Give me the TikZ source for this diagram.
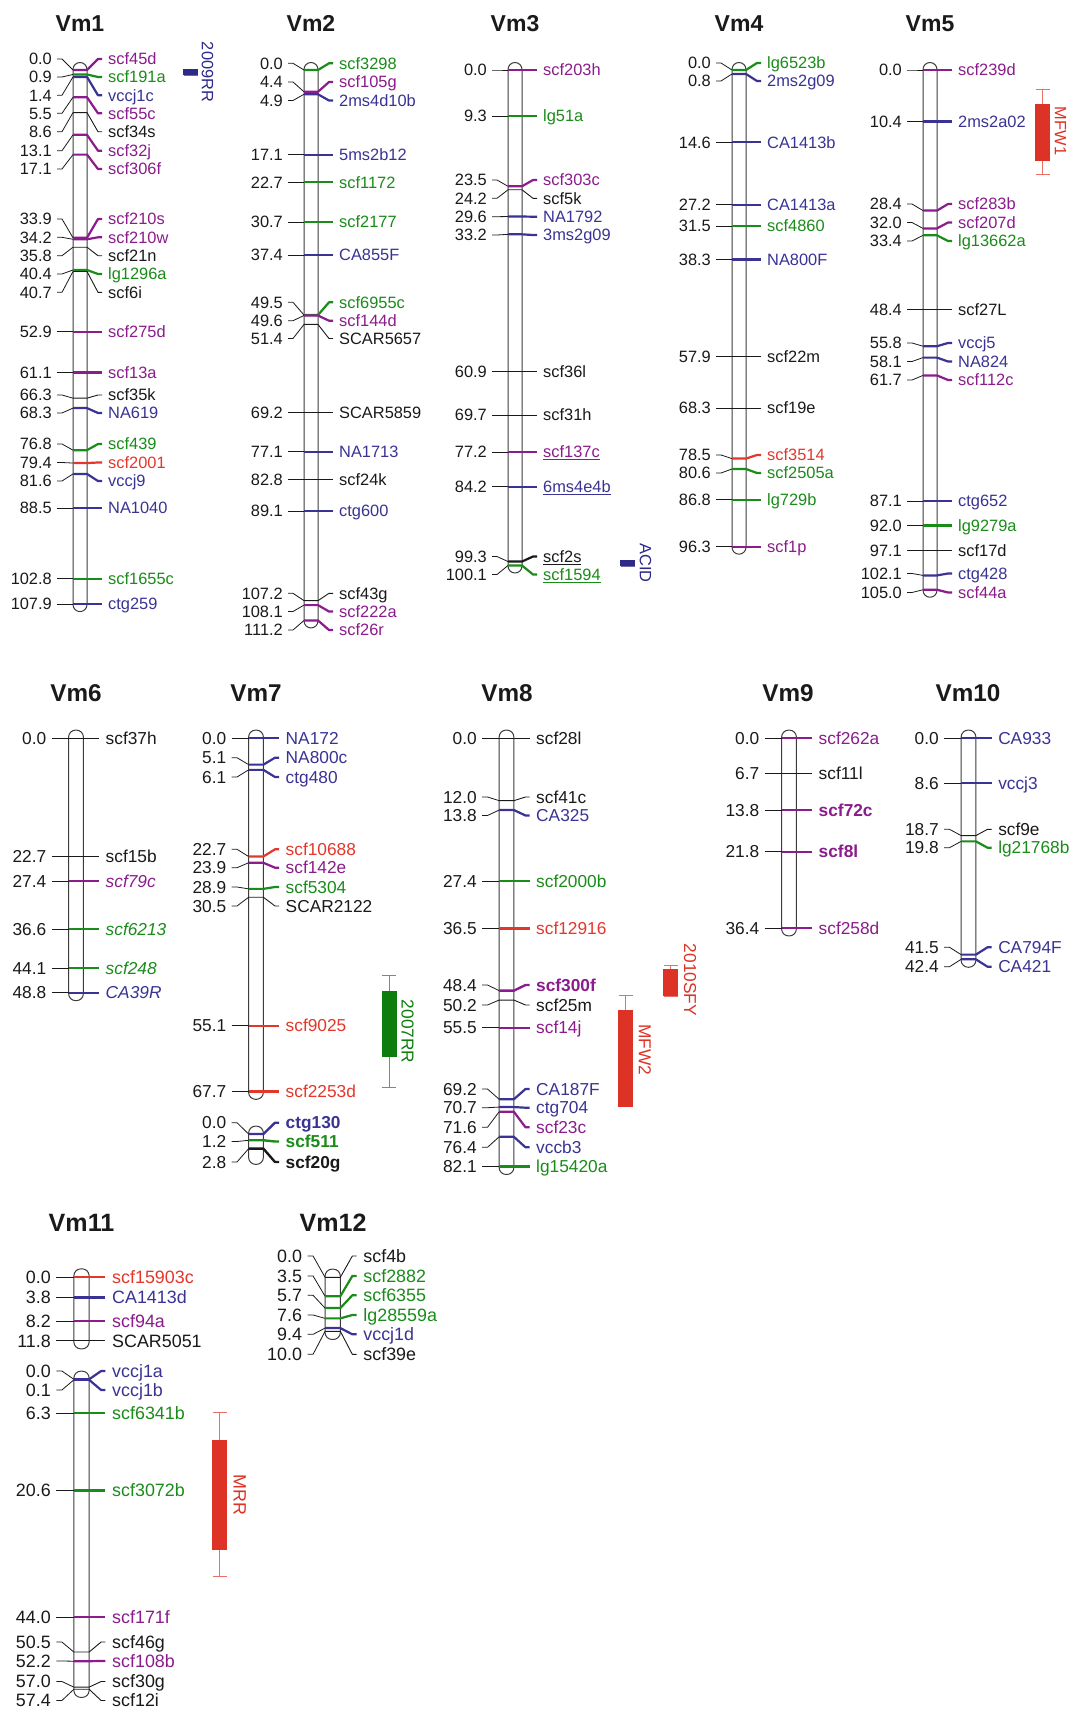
\documentclass[tikz,border=0pt]{standalone}
\usepackage{fontspec}
\setmainfont{Liberation Sans}
\definecolor{ink}{HTML}{1A1A1A}
\definecolor{chrline}{HTML}{3C3C3C}
\definecolor{mkpurple}{HTML}{8B1C8B}
\definecolor{mkgreen}{HTML}{1A8C1A}
\definecolor{mkblue}{HTML}{3A3394}
\definecolor{mkred}{HTML}{E4372C}
\definecolor{qtlred}{HTML}{DD3326}
\definecolor{qtlgreen}{HTML}{0D7D0D}
\definecolor{qtlblue}{HTML}{2E2A88}

% label formats
\newcommand{\fmnrm}[1]{#1}
\newcommand{\fmthn}[1]{#1}
\newcommand{\fmbld}[1]{\textbf{#1}}
\newcommand{\fmitl}[1]{\textit{#1}}
\newcommand{\fmund}[1]{\underline{#1}}
% size of one row of the map
\newcommand{\rowscale}[1]{\def\rf{#1}\pgfmathsetmacro\fsz{16.4*#1}\pgfmathsetmacro\tsz{23*#1}}
\newcommand{\lfont}{\fontsize{\fsz}{\fsz}\selectfont}
% #1 centre x, #2 y of 0 cM, #3 px per cM, #4 drawn length, #5 markers cM/label y/name/colour/format
\newcommand{\chrom}[5]{%
  \draw[chr] ({#1-7*\rf},{#2-7.5*\rf}) rectangle ({#1+7*\rf},{#2+#3*#4+7.5*\rf});
  \foreach \cm/\lb/\nm/\cl/\st in {#5}{
    \pgfmathsetmacro\my{#2+#3*\cm}
    \pgfmathsetmacro\ly{\lb<0 ? \my : \lb}
    \draw[lead] ({#1-23*\rf},\ly) -- ({#1-18*\rf},\ly) -- ({#1-7*\rf},\my);
    \draw[ln \st,\cl] ({#1-7*\rf},\my) -- ({#1+7*\rf},\my) -- ({#1+18*\rf},\ly) -- ({#1+22*\rf},\ly);
    \node[num,anchor=base east] (n-\nm) at ({#1-28*\rf},{\ly+5.8*\rf}) {\cm};
    \node[lab,text=\cl,anchor=base west] (m-\nm) at ({#1+28*\rf},{\ly+5.8*\rf}) {\csname fm\st\endcsname{\nm}};
  }
}
% #1 x, #2 whisker top, #3 bar top, #4 bar bottom, #5 whisker bottom, #6 colour, #7 text, #8/#9 text position
\newcommand{\qtl}[9]{%
  \draw[whisk,draw=#6!70] (#1-7,#2) -- (#1+7,#2) (#1,#2) -- (#1,#5) (#1-7,#5) -- (#1+7,#5);
  \fill[#6] (#1-7.5,#3) rectangle (#1+7.5,#4);
  \node[qlab,text=#6] (q-#7) at (#8,#9) {#7};
}

\begin{document}
\begin{tikzpicture}[x=1pt,y=-1pt,line join=round,
  chr/.style={draw=chrline,line width=1pt,rounded corners=7pt},
  lead/.style={ink,line width=0.8pt},
  ln nrm/.style={line width=2.2pt},
  ln thn/.style={line width=0.9pt},
  ln bld/.style={line width=2.4pt},
  ln itl/.style={line width=2.2pt},
  ln und/.style={line width=2.2pt},
  num/.style={font=\lfont,text=ink,inner sep=0pt},
  lab/.style={font=\lfont,inner sep=0pt},
  ttl/.style={font=\fontsize{\tsz}{\tsz}\selectfont\bfseries,text=ink,anchor=base,inner sep=0pt},
  whisk/.style={line width=1pt},
  qlab/.style={font=\lfont,rotate=-90,inner sep=0pt}]
  \fill[white] (0,0) rectangle (1071,1711);
  \useasboundingbox (0,0) rectangle (1071,1711);

  % ===== row 1 =====
  \rowscale{1}
  \node[ttl] (t-Vm1) at (80,31.3) {Vm1};
  \node[ttl] (t-Vm2) at (311,31.3) {Vm2};
  \node[ttl] (t-Vm3) at (515,31.3) {Vm3};
  \node[ttl] (t-Vm4) at (739,31.3) {Vm4};
  \node[ttl] (t-Vm5) at (930,31.3) {Vm5};

  \chrom{80}{70}{4.95}{107.9}{0.0/59/scf45d/mkpurple/nrm,
    0.9/77/scf191a/mkgreen/nrm,
    1.4/95.3/vccj1c/mkblue/nrm,
    5.5/113.3/scf55c/mkpurple/nrm,
    8.6/131.7/scf34s/ink/thn,
    13.1/150.7/scf32j/mkpurple/nrm,
    17.1/169/scf306f/mkpurple/nrm,
    33.9/219/scf210s/mkpurple/nrm,
    34.2/237.3/scf210w/mkpurple/nrm,
    35.8/255.7/scf21n/ink/thn,
    40.4/274/lg1296a/mkgreen/nrm,
    40.7/292.3/scf6i/ink/thn,
    52.9/-1/scf275d/mkpurple/nrm,
    61.1/-1/scf13a/mkpurple/nrm,
    66.3/395/scf35k/ink/thn,
    68.3/413/NA619/mkblue/nrm,
    76.8/444/scf439/mkgreen/nrm,
    79.4/462.5/scf2001/mkred/nrm,
    81.6/481/vccj9/mkblue/nrm,
    88.5/-1/NA1040/mkblue/nrm,
    102.8/-1/scf1655c/mkgreen/nrm,
    107.9/-1/ctg259/mkblue/nrm}

  \chrom{311}{70}{4.95}{111.2}{0.0/63.3/scf3298/mkgreen/nrm,
    4.4/82/scf105g/mkpurple/nrm,
    4.9/100.5/2ms4d10b/mkblue/nrm,
    17.1/-1/5ms2b12/mkblue/nrm,
    22.7/-1/scf1172/mkgreen/nrm,
    30.7/-1/scf2177/mkgreen/nrm,
    37.4/-1/CA855F/mkblue/nrm,
    49.5/302.3/scf6955c/mkgreen/nrm,
    49.6/320.7/scf144d/mkpurple/nrm,
    51.4/338.5/SCAR5657/ink/thn,
    69.2/-1/SCAR5859/ink/thn,
    77.1/-1/NA1713/mkblue/nrm,
    82.8/-1/scf24k/ink/thn,
    89.1/-1/ctg600/mkblue/nrm,
    107.2/593.3/scf43g/ink/thn,
    108.1/611.5/scf222a/mkpurple/nrm,
    111.2/630/scf26r/mkpurple/nrm}

  \chrom{515}{70}{4.95}{100.1}{0.0/-1/scf203h/mkpurple/nrm,
    9.3/-1/lg51a/mkgreen/nrm,
    23.5/180/scf303c/mkpurple/nrm,
    24.2/198.3/scf5k/ink/thn,
    29.6/216.7/NA1792/mkblue/nrm,
    33.2/235/3ms2g09/mkblue/nrm,
    60.9/-1/scf36l/ink/thn,
    69.7/-1/scf31h/ink/thn,
    77.2/-1/scf137c/mkpurple/und,
    84.2/-1/6ms4e4b/mkblue/und,
    99.3/556.5/scf2s/ink/und,
    100.1/574.5/scf1594/mkgreen/und}

  \chrom{739}{70}{4.95}{96.3}{0.0/63/lg6523b/mkgreen/nrm,
    0.8/81/2ms2g09/mkblue/nrm,
    14.6/-1/CA1413b/mkblue/nrm,
    27.2/-1/CA1413a/mkblue/nrm,
    31.5/-1/scf4860/mkgreen/nrm,
    38.3/-1/NA800F/mkblue/nrm,
    57.9/-1/scf22m/ink/thn,
    68.3/-1/scf19e/ink/thn,
    78.5/455/scf3514/mkred/nrm,
    80.6/473/scf2505a/mkgreen/nrm,
    86.8/-1/lg729b/mkgreen/nrm,
    96.3/-1/scf1p/mkpurple/nrm}

  \chrom{930}{70}{4.95}{105.0}{0.0/-1/scf239d/mkpurple/nrm,
    10.4/-1/2ms2a02/mkblue/nrm,
    28.4/204/scf283b/mkpurple/nrm,
    32.0/222.5/scf207d/mkpurple/nrm,
    33.4/241/lg13662a/mkgreen/nrm,
    48.4/-1/scf27L/ink/thn,
    55.8/343/vccj5/mkblue/nrm,
    58.1/361.5/NA824/mkblue/nrm,
    61.7/380/scf112c/mkpurple/nrm,
    87.1/-1/ctg652/mkblue/nrm,
    92.0/-1/lg9279a/mkgreen/nrm,
    97.1/-1/scf17d/ink/thn,
    102.1/573.5/ctg428/mkblue/nrm,
    105.0/592.5/scf44a/mkpurple/nrm}

  % QTL bars
  \qtl{190.5}{69}{69}{75}{75}{qtlblue}{2009RR}{207.5}{72}
  \qtl{627.7}{560}{560}{566}{566}{qtlblue}{ACID}{645.5}{563}
  \qtl{1042.5}{89.5}{103.7}{160.5}{174.7}{qtlred}{MFW1}{1060.5}{131}

  % ===== row 2 =====
  \rowscale{1.055}
  \node[ttl] (t-Vm6) at (76,701.8) {Vm6};
  \node[ttl] (t-Vm7) at (256,701.8) {Vm7};
  \node[ttl] (t-Vm8) at (507,701.8) {Vm8};
  \node[ttl] (t-Vm9) at (788,701.8) {Vm9};
  \node[ttl] (t-Vm10) at (968,701.8) {Vm10};

  \chrom{76}{738}{5.22}{48.8}{0.0/-1/scf37h/ink/thn,
    22.7/-1/scf15b/ink/thn,
    27.4/-1/scf79c/mkpurple/itl,
    36.6/-1/scf6213/mkgreen/itl,
    44.1/-1/scf248/mkgreen/itl,
    48.8/-1/CA39R/mkblue/itl}

  \chrom{256}{738}{5.22}{67.7}{0.0/-1/NA172/mkblue/nrm,
    5.1/757.7/NA800c/mkblue/nrm,
    6.1/777/ctg480/mkblue/nrm,
    22.7/849.3/scf10688/mkred/nrm,
    23.9/867.7/scf142e/mkpurple/nrm,
    28.9/887/scf5304/mkgreen/nrm,
    30.5/906/SCAR2122/ink/thn,
    55.1/-1/scf9025/mkred/nrm,
    67.7/-1/scf2253d/mkred/nrm}
  \chrom{256}{1134}{5.22}{4.3}{0.0/1122.7/ctg130/mkblue/bld,
    1.2/1141.5/scf511/mkgreen/bld,
    2.8/1162/scf20g/ink/bld}

  \chrom{506.5}{738}{5.22}{82.1}{0.0/-1/scf28l/ink/thn,
    12.0/797/scf41c/ink/thn,
    13.8/815.5/CA325/mkblue/nrm,
    27.4/-1/scf2000b/mkgreen/nrm,
    36.5/-1/scf12916/mkred/nrm,
    48.4/985/scf300f/mkpurple/bld,
    50.2/1005/scf25m/ink/thn,
    55.5/-1/scf14j/mkpurple/nrm,
    69.2/1089/CA187F/mkblue/nrm,
    70.7/1107.7/ctg704/mkblue/nrm,
    71.6/1127.3/scf23c/mkpurple/nrm,
    76.4/1147.3/vccb3/mkblue/nrm,
    82.1/-1/lg15420a/mkgreen/nrm}

  \chrom{789}{738}{5.22}{36.4}{0.0/-1/scf262a/mkpurple/nrm,
    6.7/-1/scf11l/ink/thn,
    13.8/-1/scf72c/mkpurple/bld,
    21.8/-1/scf8l/mkpurple/bld,
    36.4/-1/scf258d/mkpurple/nrm}

  \chrom{968.5}{738}{5.22}{42.4}{0.0/-1/CA933/mkblue/nrm,
    8.6/-1/vccj3/mkblue/nrm,
    18.7/829.3/scf9e/ink/thn,
    19.8/847.7/lg21768b/mkgreen/nrm,
    41.5/947.3/CA794F/mkblue/nrm,
    42.4/966.7/CA421/mkblue/nrm}

  % QTL bars
  \qtl{389.2}{975}{990.7}{1056.7}{1087.3}{qtlgreen}{2007RR}{407.5}{1031.7}
  \qtl{670.5}{965}{969.3}{996}{996}{qtlred}{2010SFY}{690}{980}
  \qtl{625.8}{995}{1010}{1106.7}{1106.7}{qtlred}{MFW2}{645}{1050}

  % ===== row 3 =====
  \rowscale{1.09}
  \node[ttl] (t-Vm11) at (81.5,1231.7) {Vm11};
  \node[ttl] (t-Vm12) at (333,1231.7) {Vm12};

  \chrom{81.5}{1277}{5.40}{11.8}{0.0/-1/scf15903c/mkred/nrm,
    3.8/-1/CA1413d/mkblue/nrm,
    8.2/-1/scf94a/mkpurple/nrm,
    11.8/-1/SCAR5051/ink/thn}
  \chrom{81.5}{1379.3}{5.40}{57.4}{0.0/1371/vccj1a/mkblue/nrm,
    0.1/1390/vccj1b/mkblue/nrm,
    6.3/-1/scf6341b/mkgreen/nrm,
    20.6/-1/scf3072b/mkgreen/nrm,
    44.0/-1/scf171f/mkpurple/nrm,
    50.5/1642/scf46g/ink/thn,
    52.2/1661/scf108b/mkpurple/nrm,
    57.0/1681.5/scf30g/ink/thn,
    57.4/1700.5/scf12i/ink/thn}

  \chrom{332.7}{1277.3}{5.40}{10.0}{0.0/1256/scf4b/ink/thn,
    3.5/1276/scf2882/mkgreen/nrm,
    5.7/1295.3/scf6355/mkgreen/nrm,
    7.6/1315/lg28559a/mkgreen/nrm,
    9.4/1334.3/vccj1d/mkblue/nrm,
    10.0/1354.3/scf39e/ink/thn}

  % QTL bar
  \qtl{219.5}{1412.3}{1440}{1550}{1576.7}{qtlred}{MRR}{239.7}{1495}
\end{tikzpicture}
\end{document}
